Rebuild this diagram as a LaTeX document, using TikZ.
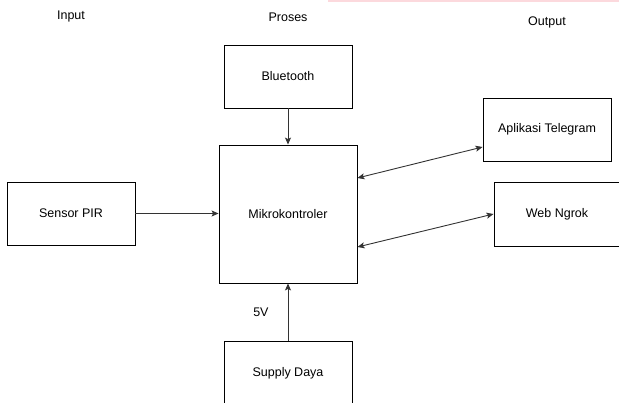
\documentclass[tikz,border=0pt]{standalone}
\usepackage{fontspec}
\setmainfont{Liberation Sans}
\usetikzlibrary{arrows.meta}
\definecolor{pinkbar}{HTML}{FCD9DD}
\definecolor{linegray}{HTML}{333333}
\begin{document}
\begin{tikzpicture}[x=1pt,y=-1pt,
  box/.style={draw=black,line width=0.9pt,rectangle,minimum width=#1,inner sep=0pt,font=\fontsize{12.5}{14}\selectfont},
  lbl/.style={inner sep=0pt,font=\fontsize{12.5}{14}\selectfont},
  conn/.style={draw=linegray,line width=0.9pt,-{Stealth[length=7pt,width=6pt,inset=1.5pt]}},
  biconn/.style={draw=linegray,line width=0.9pt,{Stealth[length=7pt,width=6pt,inset=1.5pt]}-{Stealth[length=7pt,width=6pt,inset=1.5pt]}}]
\useasboundingbox (0,0) rectangle (619,403);
\clip (0,0) rectangle (619,403);
\fill[pinkbar] (328,0) rectangle (619,2);
% headers
\node[lbl] (hin) at (71,17) {Input};
\node[lbl] (hpr) at (288,17) {Proses};
\node[lbl] (hout) at (547,22) {Output};
% boxes
\node[box=128pt,minimum height=63pt] (bt) at (288,76.5) {Bluetooth};
\node[box=138pt,minimum height=138pt] (mk) at (288,214) {Mikrokontroler};
\node[box=128pt,minimum height=63pt] (pir) at (71,213.5) {Sensor PIR};
\node[box=128pt,minimum height=63pt] (tg) at (547,129.5) {Aplikasi Telegram};
\node[box=126pt,minimum height=64pt] (web) at (557,214) {Web Ngrok};
\node[box=128pt,minimum height=64pt] (sup) at (288,373) {Supply Daya};
% connectors
\draw[conn] (bt.south) -- (mk.north);
\draw[conn] (pir.east) -- (pir.east -| mk.west);
\draw[conn] (sup.north) -- (mk.south) node[lbl,pos=0.5,left=19pt] (v5) {5V};
\coordinate (tgL) at (mk.east |- 0,178);
\coordinate (tgR) at (tg.west |- 0,147);
\draw[biconn] (tgL) -- (tgR);
\coordinate (wbL) at (mk.east |- 0,247);
\coordinate (wbR) at (web.west |- 0,214);
\draw[biconn] (wbL) -- (wbR);
\end{tikzpicture}
\end{document}
